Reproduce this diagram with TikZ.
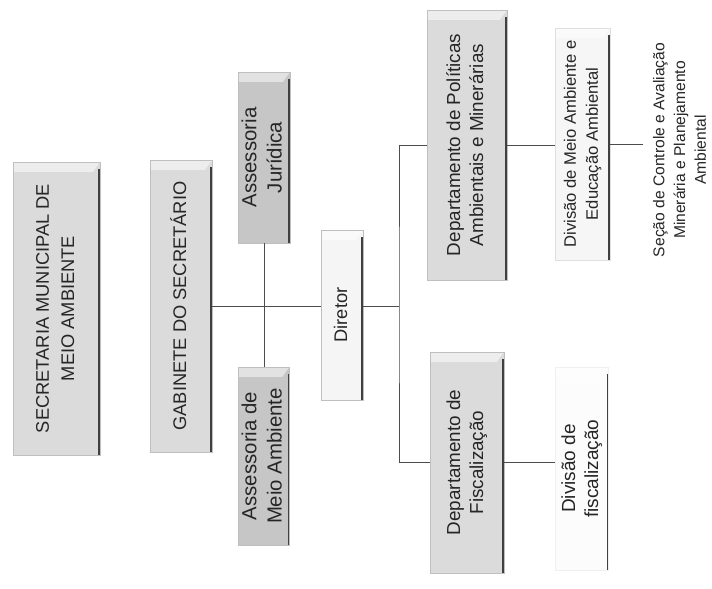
\documentclass[tikz,border=0pt]{standalone}
\usepackage{fontspec}
\setmainfont{Liberation Sans}
\usepackage{graphicx}
\usetikzlibrary{positioning, calc}

\newcommand{\vtext}[1]{\rotatebox{90}{\begin{tabular}{@{}c@{}}#1\end{tabular}}}

\begin{document}
\begin{tikzpicture}[
    x=0.025cm, y=-0.025cm,
    bloco/.style={rectangle, draw=gray!50, fill=gray!28, inner sep=0pt, text=black!85,
        font=\fontsize{13}{18}\selectfont,
        path picture={
            \fill[white, opacity=0.5] (path picture bounding box.north west) -- (path picture bounding box.north east)
                -- ([xshift=-5pt, yshift=-7pt]path picture bounding box.north east) -- ([yshift=-7pt]path picture bounding box.north west) -- cycle;
            \draw[black!75, line width=2.4pt] ([yshift=-5pt]path picture bounding box.north east) -- (path picture bounding box.south east);
        }},
    assessoria/.style={bloco, fill=gray!45, font=\fontsize{14.5}{18}\selectfont},
    depto/.style={bloco, font=\fontsize{13.4}{16.5}\selectfont},
    divisao/.style={bloco, fill=gray!7, draw=gray!25},
    liga/.style={draw=black!70, line width=0.6pt}
]
\useasboundingbox (0,0) rectangle (712,589);

% topo
\node[bloco, minimum width=2.175cm, minimum height=7.325cm] (secretaria) at (56.5, 308.5)
    {\vtext{SECRETARIA MUNICIPAL DE\\MEIO AMBIENTE}};
\node[bloco, minimum width=1.55cm, minimum height=7.3cm] (gabinete) at (181, 306)
    {\vtext{GABINETE DO SECRETÁRIO}};

% assessorias
\node[assessoria, minimum width=1.3cm, minimum height=4.275cm] (juridica) at (264, 157.5)
    {\vtext{Assessoria\\Jurídica}};
\node[assessoria, minimum width=1.2cm, minimum height=4.45cm] (ambiente) at (264, 456)
    {\vtext{Assessoria de\\Meio Ambiente}};

% diretor
\node[bloco, fill=gray!8, minimum width=1.05cm, minimum height=4.25cm] (diretor) at (342, 315)
    {\vtext{Diretor}};
\coordinate (barra) at (399, 306);

% departamentos
\node[depto, minimum width=2.0cm, minimum height=6.75cm] (politicas) at (467, 145)
    {\vtext{Departamento de Políticas\\Ambientais e Minerárias}};
\node[depto, minimum width=1.85cm, minimum height=5.525cm] (fiscal) at (467, 462.5)
    {\vtext{Departamento de\\Fiscalização}};

% divisoes
\node[divisao, font=\fontsize{11.8}{15.6}\selectfont, minimum width=1.375cm, minimum height=5.8cm] (divambiente) at (582.5, 144)
    {\vtext{Divisão de Meio Ambiente e\\Educação Ambiental}};
\node[divisao, fill=gray!2, draw=gray!12, font=\fontsize{13.5}{16.5}\selectfont, minimum width=1.325cm, minimum height=5.075cm] (divfiscal) at (582, 468.5)
    {\vtext{Divisão de\\fiscalização}};
\node[text=black!85, font=\fontsize{11.1}{14.8}\selectfont, inner sep=0pt, minimum width=1.9cm] (secao) at (681, 150)
    {\vtext{Seção de Controle e Avaliação\\Minerária e Planejamento\\Ambiental}};

% ligacoes
\draw[liga] (gabinete.east) -- (gabinete.east -| diretor.west);
\draw[liga] (juridica.south) -- (ambiente.north);
\draw[liga] (diretor.east |- barra) -- (barra);
\draw[liga] (politicas.west) -| (barra) |- (fiscal.west);
\draw[liga] (politicas.east) -- (politicas.east -| divambiente.west);
\draw[liga] (divambiente.east) -- (divambiente.east -| secao.west);
\draw[liga] (fiscal.east) -- (fiscal.east -| divfiscal.west);
\end{tikzpicture}
\end{document}
